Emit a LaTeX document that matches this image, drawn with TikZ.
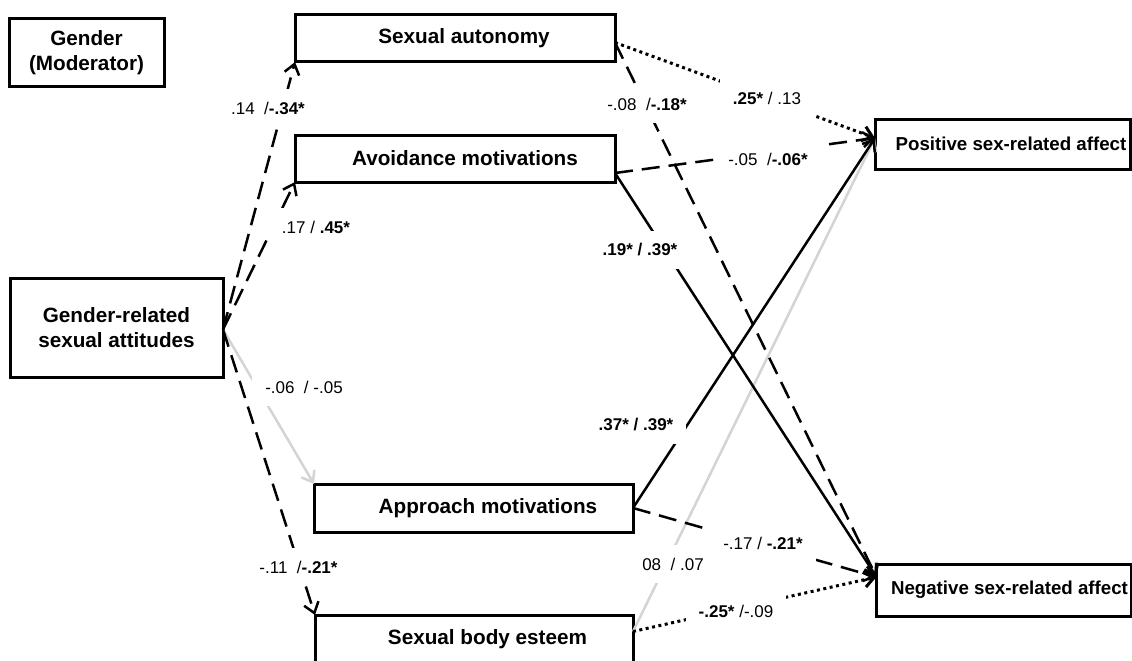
\documentclass[tikz,border=0pt]{standalone}
\usepackage{fontspec}
\setmainfont{Liberation Sans}
\usetikzlibrary{arrows.meta}
\definecolor{lgray}{RGB}{212,212,212}
\begin{document}
\begin{tikzpicture}[x=1pt,y=-1pt,
 box/.style={draw, line width=3pt, rectangle, inner sep=0pt, outer sep=0pt, font=\fontsize{20.7}{24.5}\selectfont\bfseries, align=center},
 rbox/.style={box, font=\fontsize{18.7}{22}\selectfont\bfseries},
 lab/.style={fill=white, inner xsep=13pt, inner ysep=13pt, font=\fontsize{17}{20}\selectfont},
 conn/.style={line width=2.5pt, -{Straight Barb[length=10pt,width=15pt]}},
 dsh/.style={conn, dash pattern=on 18pt off 9pt},
 dot/.style={conn, line width=3pt, dash pattern=on 3pt off 3.5pt},
 sol/.style={conn},
 gry/.style={conn, draw=lgray},
]
\fill[white] (0,0) rectangle (1132,661);
\useasboundingbox (0,0) rectangle (1132,661);

\node[box, minimum width=155pt, minimum height=67pt] (gen) at (86.5,52.5) {Gender\\(Moderator)};
\node[box, minimum width=320pt, minimum height=47pt] (aut) at (455,38.5) {\hspace*{18pt}Sexual autonomy};
\node[box, minimum width=320pt, minimum height=47pt] (avo) at (455,158.5) {\hspace*{20pt}Avoidance motivations};
\node[box, minimum width=213pt, minimum height=99pt] (gr) at (116.5,327.5) {Gender-related\\sexual attitudes};
\node[box, minimum width=319pt, minimum height=48pt] (app) at (473.5,508) {\hspace*{29pt}Approach motivations};
\node[box, minimum width=318pt, minimum height=49pt] (bod) at (474,639.5) {\hspace*{27pt}Sexual body esteem};
\node[rbox, minimum width=255pt, minimum height=50pt] (pos) at (1002.5,144) {\hspace*{17pt}Positive sex-related affect};
\node[rbox, minimum width=255pt, minimum height=52pt] (neg) at (1004,590) {\hspace*{11pt}Negative sex-related affect};

\coordinate (grs) at ([yshift=-2pt]gr.east);
\coordinate (auts) at ([yshift=-4pt]aut.east);
\coordinate (avs) at ([yshift=-14.5pt]avo.east);
\coordinate (bos) at ([yshift=8pt]bod.east);
\coordinate (pt) at ([yshift=6pt]pos.west);
\coordinate (nt) at ([yshift=13pt]neg.west);

\draw[gry] (grs) -- (app.north west);
\draw[gry] (bos) -- (pt);
\draw[dsh] (grs) -- (aut.south west);
\draw[dsh] (grs) -- (avo.south west);
\draw[dsh] (grs) -- (bod.north west);
\draw[dot] (auts) -- (pt);
\draw[dsh] (auts) -- (nt);
\draw[dsh] (avs) -- (pt);
\draw[sol] (avs) -- (nt);
\draw[sol] (app.east) -- (pt);
\draw[dsh] (app.east) -- (nt);
\draw[dot] (bos) -- (nt);

\node[lab] (l1) at (268,108) {.14\ \ /\textbf{-.34*}};
\node[lab] (l2) at (316,227) {.17 / \textbf{.45*}};
\node[lab] (l3) at (647,104) {-.08\ \ /\textbf{-.18*}};
\node[lab] (l4) at (767,98) {\textbf{.25*} / .13};
\node[lab] (l5) at (768,159) {-.05\ \ /\textbf{-.06*}};
\node[lab] (l6) at (640,250) {\textbf{.19* / .39*}};
\node[lab] (l7) at (304,387) {-.06\ \ / -.05};
\node[lab] (l8) at (636,425) {\textbf{.37* / .39*}};
\node[lab] (l9) at (298.5,567) {-.11\ \ /\textbf{-.21*}};
\node[lab] (l10) at (673,564) {08\ \ / .07};
\node[lab] (l11) at (763,543) {-.17 / \textbf{-.21*}};
\node[lab] (l12) at (736,611) {\textbf{-.25*} /-.09};
\end{tikzpicture}
\end{document}
